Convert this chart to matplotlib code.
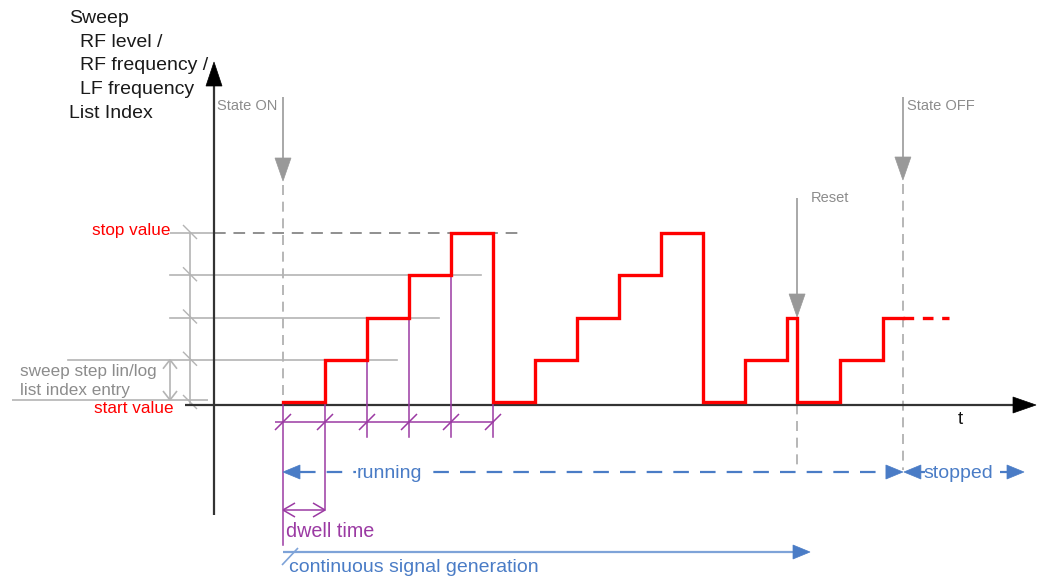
import matplotlib
matplotlib.use("Agg")
import matplotlib.pyplot as plt
from matplotlib.patches import Polygon

# ---------------- data ----------------
step_times = [0, 1, 2, 3, 4, 5, 6, 7, 8, 9, 10, 11, 12, 12.24, 13.26, 14.29]
step_levels = [0, 1, 2, 3, 4, 0, 1, 2, 3, 4, 0, 1, 2, 0, 1, 2]
state_on_t = 0.0
reset_t = 12.24
state_off_t = 14.76
dashed_end_t = 15.86
stop_level = 4
guide_levels = [1, 2, 3]          # intermediate sweep steps
dwell_marks = [0, 1, 2, 3, 4, 5]  # dwell-time ticks

# ---------------- layout (pixel mapping) ----------------
W, H = 1039, 578
T0, DT = 283.0, 42.0      # px of t=0, px per dwell
L0, DL = 402.0, 42.25     # px of level 0, px per level


def X(p):  # pixel x -> data t
    return (p - T0) / DT


def Y(p):  # pixel y -> data level
    return (L0 - p) / DL


def px_x(t):
    return T0 + DT * t


def px_y(l):
    return L0 - DL * l


fig = plt.figure(figsize=(W / 100, H / 100), dpi=100)
ax = fig.add_axes([0, 0, 1, 1])
ax.set_xlim(X(0), X(W))
ax.set_ylim(Y(H), Y(0))
ax.axis("off")

FONT = "Liberation Sans"
GRAY_T = "#8c8c8c"
GRAY_L = "#b4b4b4"
GRAY_D = "#999999"
RED = "#ff0000"
PURPLE = "#9b3aa3"
BLUE = "#4a7cc6"
BLUE_L = "#7ea3d8"
AXC = "#333333"


def seg(x1, y1, x2, y2, **kw):
    ax.plot([X(x1), X(x2)], [Y(y1), Y(y2)], solid_capstyle="butt", **kw)


def tri(pts, color, z=5):
    ax.add_patch(Polygon([(X(a), Y(b)) for a, b in pts], closed=True,
                         facecolor=color, edgecolor=color, lw=0.5, zorder=z))


def text(xp, yp, s, color, size, ha="left", bg=False, z=6):
    kw = {}
    if bg:
        kw["bbox"] = dict(facecolor="white", edgecolor="none", pad=0.5)
    return ax.text(X(xp), Y(yp), s, color=color, fontsize=size, ha=ha, va="baseline",
                   family=FONT, zorder=z, **kw)


# ---------------- axes ----------------
seg(214, 515, 214, 84, color=AXC, lw=1.6, zorder=3)
tri([(214, 62), (206, 86), (222, 86)], "black")
seg(185, 405, 1014, 405, color=AXC, lw=1.6, zorder=3)
tri([(1036, 405), (1013, 397), (1013, 413)], "black")
text(958, 424, "t", "#111111", 13.5)

# ---------------- y-label ----------------
for xp, yp, s in [(69, 23, "Sweep"), (80, 47, "RF level /"), (80, 70, "RF frequency /"),
                  (80, 94, "LF frequency"), (69, 118, "List Index")]:
    text(xp, yp, s, "#1a1a1a", 14)

# ---------------- level guides ----------------
ystop = px_y(stop_level)
seg(170, ystop, 214, ystop, color=GRAY_L, lw=1.2, zorder=2)
ax.plot([X(214), X(524)], [stop_level, stop_level], color="#8f8f8f", lw=1.4,
        ls=(0, (6, 4)), zorder=2)
for lv in guide_levels:
    x_end = px_x(lv) + 72
    x_start = 68 if lv == 1 else 170
    ax.plot([X(x_start), X(x_end)], [lv, lv], color=GRAY_L, lw=1.2, zorder=2)
seg(12, 400, 208, 400, color=GRAY_L, lw=1.2, zorder=2)

# vertical dimension line with slash ticks
seg(190, px_y(stop_level), 190, 405, color=GRAY_L, lw=1.2, zorder=2)
for lv in [0] + guide_levels + [stop_level]:
    yp = px_y(lv) + (1 if lv == 0 else 0)
    seg(183, yp - 8, 197, yp + 6, color=GRAY_L, lw=1.0, zorder=2)

# sweep step double arrow
seg(170, px_y(1), 170, 400, color=GRAY_L, lw=1.2, zorder=2)
for yp, d in [(px_y(1), 1), (400, -1)]:
    seg(170, yp, 163, yp + 9 * d, color=GRAY_L, lw=1.2, zorder=2)
    seg(170, yp, 177, yp + 9 * d, color=GRAY_L, lw=1.2, zorder=2)

text(170, 235, "stop value", RED, 12.3, ha="right")
text(174, 413, "start value", RED, 12.3, ha="right")
text(20, 376, "sweep step lin/log", GRAY_T, 12.3)
text(20, 395, "list index entry", GRAY_T, 12.3)


# ---------------- event markers ----------------
def event(t, top, head_base, label, label_x, label_y, dash_bottom):
    xp = px_x(t)
    seg(xp, top, xp, head_base, color=GRAY_D, lw=1.2, zorder=2)
    tri([(xp, head_base + 23), (xp - 8, head_base), (xp + 8, head_base)], GRAY_D, z=4)
    ax.plot([X(xp), X(xp)], [Y(head_base + 27), Y(dash_bottom)], color="#aaaaaa",
            lw=1.2, ls=(0, (6, 4)), zorder=1)
    text(label_x, label_y, label, GRAY_T, 10.5)


event(state_on_t, 97, 158, "State ON", 217, 110, 400)
event(reset_t, 198, 294, "Reset", 811, 202, 470)
event(state_off_t, 97, 157, "State OFF", 907, 110, 470)

# ---------------- red staircase ----------------
xs, ys = [], []
for i, (t, lv) in enumerate(zip(step_times, step_levels)):
    t_end = step_times[i + 1] if i + 1 < len(step_times) else state_off_t
    xs += [t, t_end]
    ys += [lv, lv]
ax.plot(xs, ys, color=RED, lw=2.4, solid_joinstyle="miter", zorder=5)
ax.plot([state_off_t, dashed_end_t], [step_levels[-1]] * 2, color=RED, lw=2.4,
        ls=(0, (3.2, 2.6)), zorder=5)

# ---------------- dwell time (purple) ----------------
for t in dwell_marks:
    lv_top = step_levels[t - 1] if t >= 1 else 0
    bottom = 545 if t == 0 else (510 if t == 1 else 437)
    ax.plot([t, t], [lv_top, Y(bottom)], color=PURPLE, lw=1.1, zorder=3)
    xp = px_x(t)
    seg(xp - 8, 430, xp + 8, 414, color=PURPLE, lw=1.1, zorder=3)
seg(275, 422, px_x(dwell_marks[-1]) + 1, 422, color=PURPLE, lw=1.1, zorder=3)
# dwell double arrow
seg(px_x(0), 510, px_x(1), 510, color=PURPLE, lw=1.1, zorder=3)
for xp, d in [(px_x(0), 1), (px_x(1), -1)]:
    seg(xp, 510, xp + 12 * d, 503, color=PURPLE, lw=1.1, zorder=3)
    seg(xp, 510, xp + 12 * d, 517, color=PURPLE, lw=1.1, zorder=3)
text(286, 537, "dwell time", PURPLE, 14.2)

# ---------------- running / stopped ----------------
ax.plot([X(px_x(state_on_t) + 17), X(px_x(state_off_t) - 15)], [Y(472)] * 2, color=BLUE,
        lw=1.6, ls=(0, (7, 5)), zorder=3)
tri([(px_x(state_on_t), 472), (px_x(state_on_t) + 17, 465), (px_x(state_on_t) + 17, 479)], BLUE)
tri([(px_x(state_off_t), 472), (px_x(state_off_t) - 17, 465), (px_x(state_off_t) - 17, 479)], BLUE)
text(357, 478, "running", BLUE, 14, bg=True)
tri([(px_x(state_off_t) + 1, 472), (px_x(state_off_t) + 18, 465), (px_x(state_off_t) + 18, 479)], BLUE)
seg(px_x(state_off_t) + 17, 472, 925, 472, color=BLUE, lw=1.6, zorder=3)
seg(1000, 472, 1008, 472, color=BLUE, lw=1.6, zorder=3)
tri([(1024, 472), (1007, 465), (1007, 479)], BLUE)
text(923, 478, "stopped", BLUE, 14)

# ---------------- continuous signal generation ----------------
seg(px_x(state_on_t), 552, 795, 552, color=BLUE_L, lw=1.6, zorder=3)
tri([(810, 552), (793, 545), (793, 559)], BLUE)
seg(282, 565, 298, 548, color=BLUE_L, lw=1.2, zorder=3)
text(289, 572, "continuous signal generation", BLUE, 14)

fig.savefig("out.png", dpi=100)
